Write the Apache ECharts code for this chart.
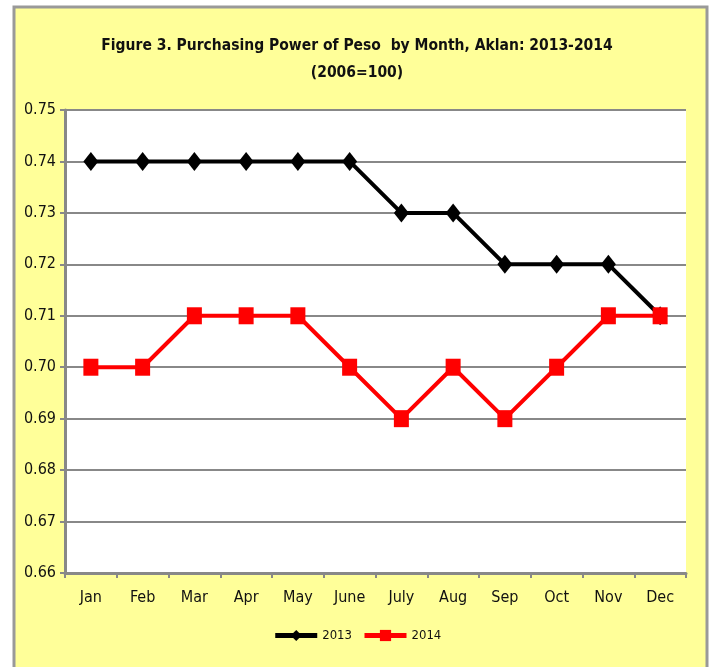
<!DOCTYPE html>
<html><head><meta charset="utf-8">
<script src="https://cdn.jsdelivr.net/npm/echarts@6/dist/echarts.min.js"></script>
<style>html,body{margin:0;padding:0;background:#fff;}#c{width:714px;height:667px;}</style>
</head><body><div id="c"></div>
<script>
var months = ['Jan','Feb','Mar','Apr','May','June','July','Aug','Sep','Oct','Nov','Dec'];
var s2013 = [0.74,0.74,0.74,0.74,0.74,0.74,0.73,0.73,0.72,0.72,0.72,0.71];
var s2014 = [0.70,0.70,0.71,0.71,0.71,0.70,0.69,0.70,0.69,0.70,0.71,0.71];
var FONT = '"DejaVu Sans Condensed", "Liberation Sans Narrow", sans-serif';
var chart = echarts.init(document.getElementById('c'));
chart.setOption({
  animation: false,
  backgroundColor: '#fff',
  graphic: [{
    type: 'rect', z: -10, silent: true,
    shape: {x: 14, y: 7, width: 693, height: 670},
    style: {fill: '#FFFF99', stroke: '#999999', lineWidth: 3}
  }],
  title: {
    text: 'Figure 3. Purchasing Power of Peso  by Month, Aklan: 2013-2014\n(2006=100)',
    left: 'center', top: 27,
    textStyle: {fontFamily: FONT, fontWeight: 'bold', fontSize: 15.5, color: '#111', lineHeight: 27}
  },
  legend: {
    bottom: 20, left: 'center', itemWidth: 42, itemHeight: 14, itemGap: 10,
    textStyle: {fontFamily: FONT, fontSize: 13, color: '#111'},
    lineStyle: {width: 5},
    data: ['2013', '2014']
  },
  grid: {left: 65, right: 28, top: 110, bottom: 94, show: true, backgroundColor: '#fff', borderWidth: 0},
  xAxis: {
    type: 'category', data: months, boundaryGap: true,
    axisLine: {lineStyle: {color: '#888', width: 3}},
    axisTick: {show: true, length: 5, lineStyle: {color: '#888', width: 2}},
    axisLabel: {fontFamily: FONT, fontSize: 16, color: '#111', margin: 17}
  },
  yAxis: {
    type: 'value', min: 0.66, max: 0.75, interval: 0.01,
    axisLine: {show: true, lineStyle: {color: '#888', width: 3}},
    axisTick: {show: true, length: 5, lineStyle: {color: '#888', width: 2}},
    splitLine: {lineStyle: {color: '#888', width: 2}},
    axisLabel: {fontFamily: FONT, fontSize: 16, color: '#111', margin: 9,
      formatter: function (v) { return v.toFixed(2); }}
  },
  series: [{
    name: '2013', type: 'line', data: s2013,
    symbol: 'diamond', symbolSize: [15, 19],
    lineStyle: {color: '#000', width: 4}, itemStyle: {color: '#000'}
  }, {
    name: '2014', type: 'line', data: s2014,
    symbol: 'rect', symbolSize: [15, 17],
    lineStyle: {color: '#FF0000', width: 4}, itemStyle: {color: '#FF0000'}
  }]
});
</script></body></html>
